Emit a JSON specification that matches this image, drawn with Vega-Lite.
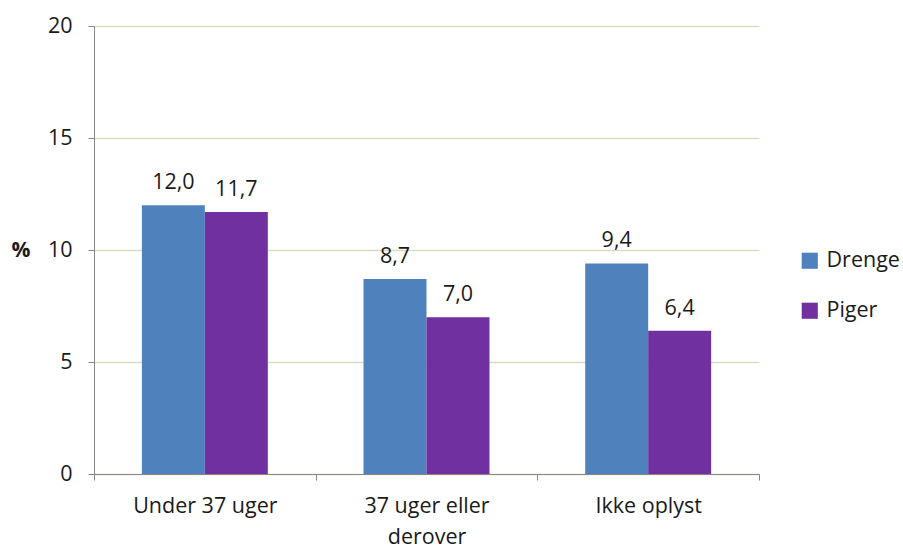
{
  "$schema": "https://vega.github.io/schema/vega-lite/v6.json",
  "autosize": {"type": "none"},
  "width": 665,
  "height": 448,
  "padding": {"left": 94, "top": 26, "right": 144, "bottom": 75},
  "background": "white",
  "config": {
    "locale": {"number": {"decimal": ",", "thousands": ".", "grouping": [3], "currency": ["", " kr."]}},
    "font": "Open Sans",
    "view": {"stroke": null}
  },
  "data": {
    "values": [
      {"kategori": "Under 37 uger", "koen": "Drenge", "pct": 12.0},
      {"kategori": "Under 37 uger", "koen": "Piger", "pct": 11.7},
      {"kategori": "37 uger eller derover", "koen": "Drenge", "pct": 8.7},
      {"kategori": "37 uger eller derover", "koen": "Piger", "pct": 7.0},
      {"kategori": "Ikke oplyst", "koen": "Drenge", "pct": 9.4},
      {"kategori": "Ikke oplyst", "koen": "Piger", "pct": 6.4}
    ]
  },
  "encoding": {
    "x": {
      "field": "kategori", "type": "nominal",
      "sort": ["Under 37 uger", "37 uger eller derover", "Ikke oplyst"],
      "scale": {"paddingInner": 0, "paddingOuter": 0},
      "axis": {
        "title": null, "labelAngle": 0, "tickBand": "extent",
        "domainColor": "#868686", "tickColor": "#868686", "tickSize": 6,
        "labelFontSize": 21.5, "labelColor": "#1a1a1a", "labelPadding": 15,
        "labelLineHeight": 31,
        "labelExpr": "datum.label == '37 uger eller derover' ? ['37 uger eller', 'derover'] : datum.label"
      }
    },
    "xOffset": {
      "field": "koen", "type": "nominal",
      "scale": {"paddingInner": 0, "paddingOuter": 0.76}
    },
    "y": {
      "field": "pct", "type": "quantitative",
      "scale": {"domain": [0, 20]},
      "axis": {
        "values": [0, 5, 10, 15, 20], "title": "%", "titleAngle": 0,
        "titleFontSize": 21, "titleFontWeight": "bold", "titleColor": "#1a1a1a",
        "titleX": -83, "titleY": 224, "titleAlign": "left", "titleBaseline": "middle",
        "gridColor": "#DDD9C3", "gridWidth": 1.5,
        "domainColor": "#868686", "tickColor": "#868686", "tickSize": 6,
        "labelFontSize": 21.5, "labelColor": "#1a1a1a", "labelPadding": 16
      }
    }
  },
  "layer": [
    {
      "mark": {"type": "bar"},
      "encoding": {
        "color": {
          "field": "koen", "type": "nominal",
          "scale": {"domain": ["Drenge", "Piger"], "range": ["#4F81BD", "#7030A0"]},
          "legend": {
            "title": null, "orient": "none", "legendX": 705, "legendY": 224,
            "symbolType": "square", "symbolSize": 260, "symbolStrokeWidth": 0,
            "labelFontSize": 21.5, "labelColor": "#1a1a1a", "rowPadding": 27, "labelOffset": 6
          }
        }
      }
    },
    {
      "mark": {"type": "text", "baseline": "bottom", "dy": -11, "fontSize": 21.5, "color": "#1a1a1a"},
      "encoding": {
        "text": {"field": "pct", "type": "quantitative", "format": ".1f"}
      }
    }
  ]
}
